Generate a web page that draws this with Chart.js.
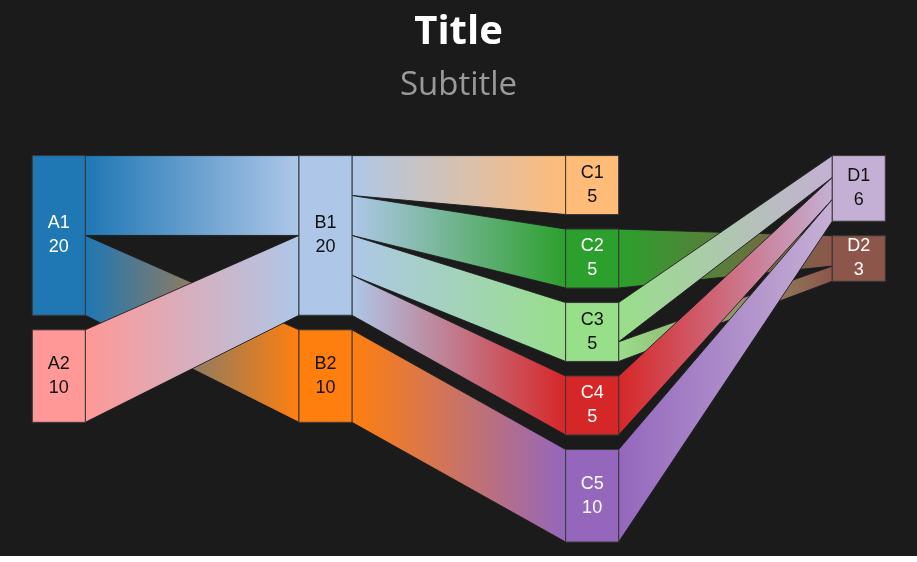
<!DOCTYPE html>
<html>
<head>
<meta charset="utf-8">
<script src="https://cdn.jsdelivr.net/npm/chart.js@4"></script>
<style>
  body { margin:0; background:#fff; }
  .wrap { width:917px; height:556px; background:#1b1b1b; position:relative; }
</style>
</head>
<body>
<div class="wrap"><canvas id="sankey"></canvas></div>
<script>
// nodes
const nodeNames   = ['A1','A2','B1','B2','C1','C2','C3','C4','C5','D1','D2'];
const nodeColumns = [0, 0, 1, 1, 2, 2, 2, 2, 2, 3, 3];
const nodeColors  = ['#1f77b4','#ff9896','#aec7e8','#ff7f0e','#ffbb78','#2ca02c','#98df8a','#d62728','#9467bd','#c5b0d5','#8c564b'];

// links
const linkFrom = ['A1','A1','A2','B1','B1','B1','B1','B2','C2','C3','C3','C4','C5'];
const linkTo   = ['B1','B2','B1','C1','C2','C3','C4','C5','D2','D2','D1','D1','D1'];
const linkFlow = [10, 10, 10, 5, 5, 5, 5, 10, 2, 1, 2, 2, 2];

const NODE_W = 53;      // px
const NODE_MIN = 3.77;  // extra size added to every node (value units)
const NODE_GAP = 2.17;  // gap between nodes (value units)
const PAD_L = 32.3, PAD_R = 84.7;

// layout in value units
const nodes = nodeNames.map((name, i) => ({ name, col: nodeColumns[i], color: nodeColors[i], inSum: 0, outSum: 0 }));
const byName = {};
nodes.forEach(n => byName[n.name] = n);
linkFrom.forEach((f, i) => {
  byName[f].outSum += linkFlow[i];
  byName[linkTo[i]].inSum += linkFlow[i];
});
const colTop = {};
nodes.forEach(n => {
  n.value = Math.max(n.inSum, n.outSum);
  const t = colTop[n.col] || 0;
  n.y0 = t;
  n.y1 = t + n.value + NODE_MIN;
  colTop[n.col] = n.y1 + NODE_GAP;
});
const yMax = Math.max(...Object.values(colTop)) - NODE_GAP;
const nCols = Math.max(...nodeColumns);
const colStep = (917 - PAD_L - PAD_R) / nCols;

function textColor(hex) {
  const r = parseInt(hex.slice(1,3),16), g = parseInt(hex.slice(3,5),16), b = parseInt(hex.slice(5,7),16);
  return (0.299*r + 0.587*g + 0.114*b) < 140 ? '#ffffff' : '#111111';
}

const sankeyPlugin = {
  id: 'sankeyDraw',
  afterDatasetsDraw(chart) {
    const ctx = chart.ctx, xs = chart.scales.x, ys = chart.scales.y;
    const px = n => xs.getPixelForValue(n.col);
    const pyTop = n => ys.getPixelForValue(n.y0);
    const pyBot = n => ys.getPixelForValue(n.y1);

    // stacking offsets for each side of each node
    const links = linkFrom.map((f, i) => ({ s: byName[f], t: byName[linkTo[i]], v: linkFlow[i] }));
    nodes.forEach(n => {
      const outs = links.filter(l => l.s === n).sort((a, b) => a.t.y0 - b.t.y0);
      const ins = links.filter(l => l.t === n).sort((a, b) => a.s.y0 - b.s.y0);
      const h = pyBot(n) - pyTop(n);
      let acc = pyTop(n);
      outs.forEach(l => { const w = h * l.v / n.outSum; l.sy0 = acc; l.sy1 = acc + w; acc += w; });
      acc = pyTop(n);
      ins.forEach(l => { const w = h * l.v / n.inSum; l.ty0 = acc; l.ty1 = acc + w; acc += w; });
    });

    ctx.save();
    links.forEach(l => {
      const x0 = px(l.s) + NODE_W, x1 = px(l.t);
      const grad = ctx.createLinearGradient(x0, 0, x1, 0);
      grad.addColorStop(0, l.s.color);
      grad.addColorStop(1, l.t.color);
      ctx.beginPath();
      ctx.moveTo(x0, l.sy0);
      ctx.lineTo(x1, l.ty0);
      ctx.lineTo(x1, l.ty1);
      ctx.lineTo(x0, l.sy1);
      ctx.closePath();
      ctx.fillStyle = grad;
      ctx.fill();
      ctx.lineWidth = 1;
      ctx.strokeStyle = 'rgba(30,30,30,0.9)';
      ctx.stroke();
    });

    nodes.forEach(n => {
      const x = px(n), y0 = pyTop(n), y1 = pyBot(n);
      ctx.fillStyle = n.color;
      ctx.fillRect(x, y0, NODE_W, y1 - y0);
      ctx.lineWidth = 1;
      ctx.strokeStyle = '#3a3a3a';
      ctx.strokeRect(x, y0, NODE_W, y1 - y0);
      ctx.fillStyle = textColor(n.color);
      ctx.font = '18px "Liberation Sans", Arial, sans-serif';
      ctx.textAlign = 'center';
      ctx.textBaseline = 'middle';
      const cx = x + NODE_W / 2, cy = (y0 + y1) / 2;
      ctx.fillText(n.name, cx, cy - 12);
      ctx.fillText(String(n.value), cx, cy + 12);
    });
    ctx.restore();
  }
};

new Chart(document.getElementById('sankey'), {
  type: 'scatter',
  data: { datasets: [{ data: [] }] },
  options: {
    responsive: true,
    maintainAspectRatio: false,
    animation: false,
    layout: { padding: { top: 0, bottom: 14, left: 0, right: 0 } },
    plugins: {
      legend: { display: false },
      tooltip: { enabled: false },
      title: {
        display: true, text: 'Title', color: '#ffffff',
        font: { family: '"Open Sans", sans-serif', size: 40, weight: 'bold' },
        padding: { top: 9, bottom: 9 }
      },
      subtitle: {
        display: true, text: 'Subtitle', color: '#9a9a9a',
        font: { family: '"Open Sans", sans-serif', size: 33, weight: 'normal' },
        padding: { top: 0, bottom: 50 }
      }
    },
    scales: {
      x: { type: 'linear', display: false, min: -PAD_L / colStep, max: nCols + PAD_R / colStep },
      y: { type: 'linear', display: false, reverse: true, min: 0, max: yMax }
    }
  },
  plugins: [sankeyPlugin]
});
</script>
</body>
</html>
